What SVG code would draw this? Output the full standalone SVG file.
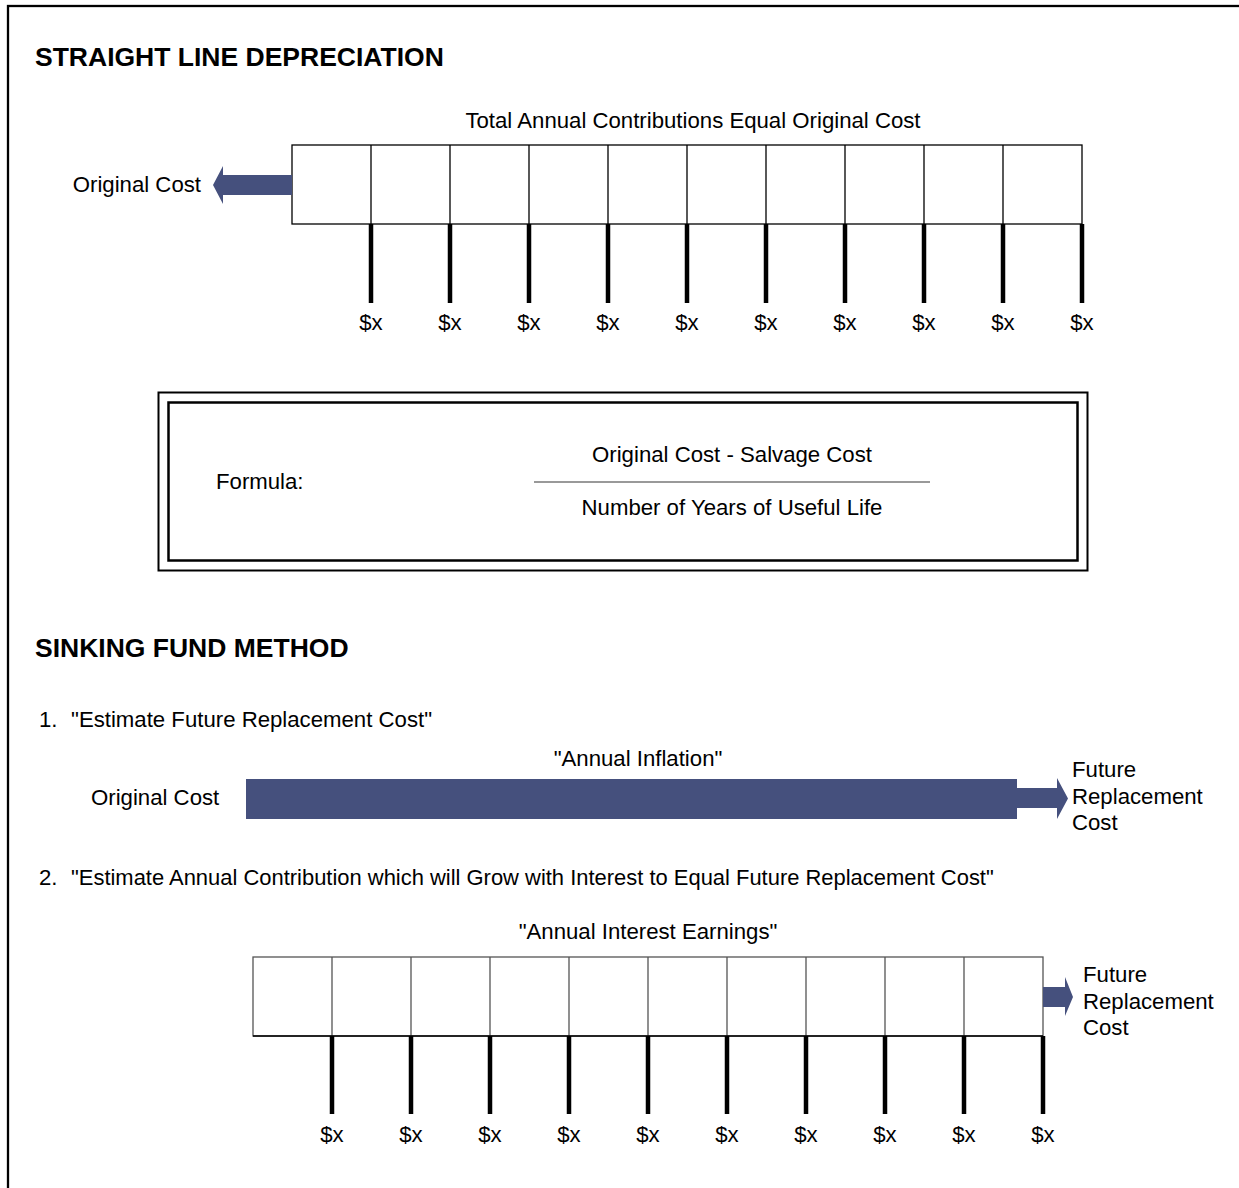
<svg xmlns="http://www.w3.org/2000/svg" width="1239" height="1188" viewBox="0 0 1239 1188">
<style>
text{font-family:"Liberation Sans",Arial,sans-serif;font-size:22.2px;fill:#000}
.h{font-weight:bold;font-size:26.5px}
.c{text-anchor:middle}
.cell{fill:#fff;stroke:#000;stroke-width:1.3}
.cell2{fill:#fff;stroke:#555;stroke-width:1.3}
.tick{stroke:#000;stroke-width:4.5}
.nav{fill:#45507D}
</style>
<rect x="0" y="0" width="1239" height="1188" fill="#fff"/>
<rect id="frame" x="8" y="6" width="1260" height="1220" fill="none" stroke="#000" stroke-width="2.3"/>

<g id="sld-title"><text class="h" x="35" y="66">STRAIGHT LINE DEPRECIATION</text></g>
<g id="sld-caption"><text class="c" x="693" y="128">Total Annual Contributions Equal Original Cost</text></g>

<g id="sld-cells">
<rect class="cell" x="292" y="145" width="790" height="79"/>
<path d="M371 145V224M450 145V224M529 145V224M608 145V224M687 145V224M766 145V224M845 145V224M924 145V224M1003 145V224" stroke="#000" stroke-width="1.3"/>
</g>

<g id="sld-original">
<text x="201" y="192" text-anchor="end">Original Cost</text>
</g>

<g id="sld-labels">
<text class="c" x="371" y="330">$x</text>
<text class="c" x="450" y="330">$x</text>
<text class="c" x="529" y="330">$x</text>
<text class="c" x="608" y="330">$x</text>
<text class="c" x="687" y="330">$x</text>
<text class="c" x="766" y="330">$x</text>
<text class="c" x="845" y="330">$x</text>
<text class="c" x="924" y="330">$x</text>
<text class="c" x="1003" y="330">$x</text>
<text class="c" x="1082" y="330">$x</text>
</g>

<g id="formula">
<rect x="158.5" y="392.5" width="929" height="178" fill="none" stroke="#000" stroke-width="2"/>
<rect x="168.5" y="402.5" width="909" height="158" fill="none" stroke="#000" stroke-width="2.5"/>
<text x="216" y="489">Formula:</text>
<text class="c" x="732" y="462">Original Cost - Salvage Cost</text>
<line x1="534" y1="482" x2="930" y2="482" stroke="#777" stroke-width="1.5"/>
<text class="c" x="732" y="515">Number of Years of Useful Life</text>
</g>

<g id="sf-title"><text class="h" x="35" y="657">SINKING FUND METHOD</text></g>
<g id="step1">
<text x="39" y="727">1.</text>
<text x="71" y="727">"Estimate Future Replacement Cost"</text>
</g>
<g id="inflation">
<text class="c" x="638" y="766">"Annual Inflation"</text>
<text x="91" y="805">Original Cost</text>
<rect class="nav" x="246" y="779" width="771" height="40"/>
</g>
<g id="future1">
<text x="1072" y="777">Future</text>
<text x="1072" y="804">Replacement</text>
<text x="1072" y="830">Cost</text>
</g>
<g id="step2">
<text x="39" y="885">2.</text>
<text x="71" y="885" style="font-size:21.95px">"Estimate Annual Contribution which will Grow with Interest to Equal Future Replacement Cost"</text>
</g>
<g id="sf-caption"><text class="c" x="648" y="939">"Annual Interest Earnings"</text></g>
<g id="sf-cells">
<rect class="cell2" x="253" y="957" width="790" height="79"/>
<path d="M332 957V1036M411 957V1036M490 957V1036M569 957V1036M648 957V1036M727 957V1036M806 957V1036M885 957V1036M964 957V1036" stroke="#555" stroke-width="1.3"/>
<line x1="253" y1="1036" x2="1043" y2="1036" stroke="#000" stroke-width="1.5"/>
</g>
<g id="future2">
<text x="1083" y="982">Future</text>
<text x="1083" y="1009">Replacement</text>
<text x="1083" y="1035">Cost</text>
</g>
<g id="sf-labels">
<text class="c" x="332" y="1142">$x</text>
<text class="c" x="411" y="1142">$x</text>
<text class="c" x="490" y="1142">$x</text>
<text class="c" x="569" y="1142">$x</text>
<text class="c" x="648" y="1142">$x</text>
<text class="c" x="727" y="1142">$x</text>
<text class="c" x="806" y="1142">$x</text>
<text class="c" x="885" y="1142">$x</text>
<text class="c" x="964" y="1142">$x</text>
<text class="c" x="1043" y="1142">$x</text>
</g>

<g id="connectors">
<polygon class="nav" points="292,175 223,175 223,166 213,185 223,204 223,195 292,195"/>
<polygon class="nav" points="1017,788 1057,788 1057,778 1068,798.5 1057,819 1057,808 1017,808"/>
<polygon class="nav" points="1043,987 1065,987 1065,977 1073,997 1065,1016 1065,1007 1043,1007"/>
<path class="tick" d="M371 224V303M450 224V303M529 224V303M608 224V303M687 224V303M766 224V303M845 224V303M924 224V303M1003 224V303M1082 224V303"/>
<path class="tick" d="M332 1036V1114M411 1036V1114M490 1036V1114M569 1036V1114M648 1036V1114M727 1036V1114M806 1036V1114M885 1036V1114M964 1036V1114M1043 1036V1114"/>
</g>
</svg>
